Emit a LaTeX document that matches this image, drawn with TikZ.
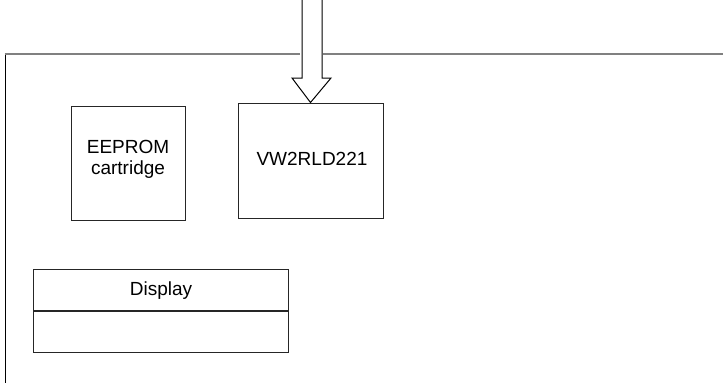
\documentclass[tikz,border=0pt]{standalone}
\usepackage{fontspec}
\setmainfont{Liberation Sans}
\begin{document}
\begin{tikzpicture}[x=1pt,y=-1pt,
  blk/.style={draw=black!85,line width=1pt,rectangle,inner sep=0pt,align=center},
  lbl/.style={align=center,inner sep=0pt,font=\fontsize{19}{21}\selectfont},
  frametop/.style={draw=black!50,line width=2pt},
  frameside/.style={draw=black,line width=1pt},
  arrowline/.style={draw=black,line width=1pt,line join=miter}]
\useasboundingbox (0,0) rectangle (723,383);
% frame
\coordinate (fl) at (5,54);
\coordinate (fb) at (5,383);
\coordinate (g1) at (300,54);
\coordinate (g2) at (323,54);
\coordinate (fr) at (723,54);
\draw[frameside] (fl) -- (fb);
\draw[frametop] ([xshift=-0.5pt]fl) -- (g1);
\draw[frametop] (g2) -- (fr);
% boxes
\node[blk,minimum width=114pt,minimum height=114pt] (eeprom) at (128,163) {};
\node[lbl] (eepromtxt) at (128,159.5) {EEPROM\\cartridge};
\node[blk,minimum width=145pt,minimum height=115pt] (vw) at (310.5,160.5) {};
\node[lbl] (vwtxt) at (312,159) {VW2RLD221};
\node[blk,minimum width=255pt,minimum height=41pt] (disp) at (160.5,289.5) {};
\node[lbl] (disptxt) at (161,291) {Display};
\node[blk,minimum width=255pt,minimum height=41pt,anchor=north] (dispb) at (disp.south) {};
% arrow
\coordinate (a1) at (302,0);
\coordinate (a2) at (302,78);
\coordinate (a3) at (292,78);
\coordinate (a5) at (331,78);
\coordinate (a6) at (322,78);
\coordinate (a7) at (322,0);
\draw[arrowline] (a1) -- (a2) -- (a3) -- (vw.north) -- (a5) -- (a6) -- (a7);
\end{tikzpicture}
\end{document}
